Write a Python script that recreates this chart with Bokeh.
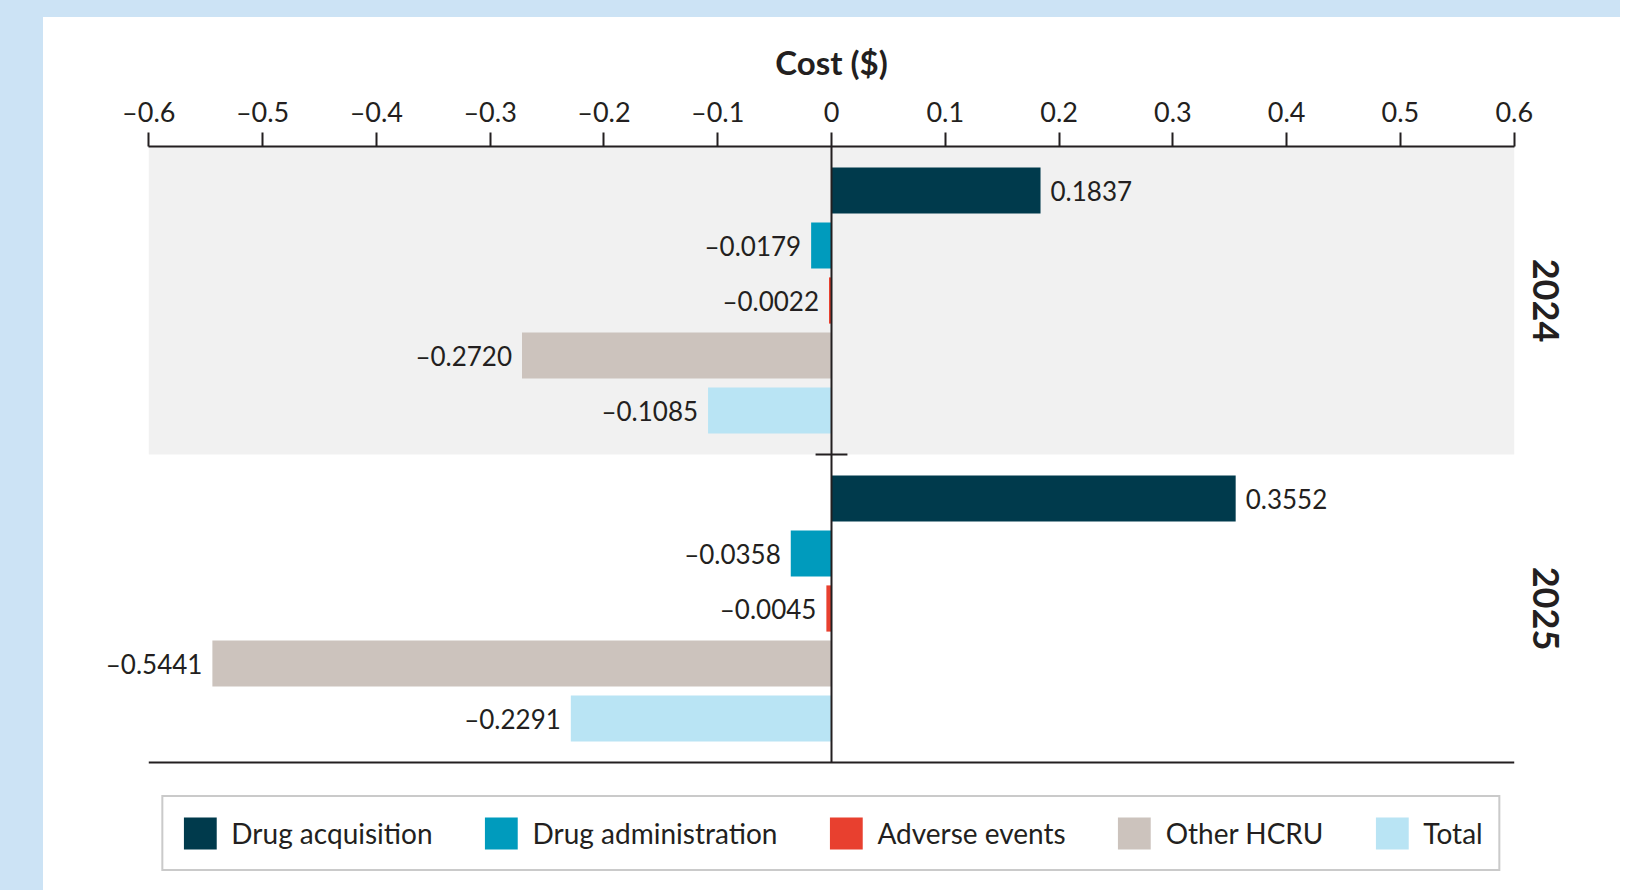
import math
from bokeh.plotting import figure
from bokeh.models import (Range1d, FixedTicker, Legend, LegendItem, ColumnDataSource, Spacer)
from bokeh.layouts import column, row
from bokeh.embed import file_html
from bokeh.resources import INLINE
from bokeh.core.properties import value

# ---------------- data ----------------
years = ["2024", "2025"]
categories = ["Drug acquisition", "Drug administration", "Adverse events", "Other HCRU", "Total"]
costs_2024 = [0.1837, -0.0179, -0.0022, -0.2720, -0.1085]
costs_2025 = [0.3552, -0.0358, -0.0045, -0.5441, -0.2291]
tick_values = [-0.6, -0.5, -0.4, -0.3, -0.2, -0.1, 0.0, 0.1, 0.2, 0.3, 0.4, 0.5, 0.6]
tick_labels = ["–0.6", "–0.5", "–0.4", "–0.3", "–0.2", "–0.1", "0",
               "0.1", "0.2", "0.3", "0.4", "0.5", "0.6"]
colors = ["#003a4c", "#009bbd", "#e8402f", "#ccc3bd", "#b9e4f4"]
axis_title = "Cost ($)"

# ---------------- style ----------------
FONT = "Lato"
INK = "#231f20"
PAGE_BG = "#cce3f5"
BAND = "#f1f1f1"

series = [costs_2024, costs_2025]
n = len(categories)
GROUP_GAP = 0.6
PAD = 0.3

FIG_W, FIG_H = 1577, 873
BORDER_L, BORDER_R, BORDER_T = 37, 38, 129
CHART_H = 616                      # height of the bar area in px
X_MARGIN = 0.06                    # extra data room outside the axis bounds


def ypos(g, i):
    return g * (n + GROUP_GAP) + i


y_top = -0.5 - PAD
y_bot = ypos(len(years) - 1, n - 1) + 0.5 + PAD
boundary = ypos(0, n - 1) + 0.5 + GROUP_GAP / 2
frame_h = FIG_H - BORDER_T
y_end = y_top + (y_bot - y_top) * frame_h / CHART_H
x_lo, x_hi = tick_values[0], tick_values[-1]


def fmt(v):
    return ("–" if v < 0 else "") + f"{abs(v):.4f}"


p = figure(width=FIG_W, height=FIG_H,
           x_range=Range1d(x_lo - X_MARGIN, x_hi + X_MARGIN),
           y_range=Range1d(y_end, y_top),
           x_axis_location="above", y_axis_type=None,
           output_backend="svg", toolbar_location=None,
           min_border_left=BORDER_L, min_border_right=BORDER_R,
           min_border_top=BORDER_T, min_border_bottom=0,
           outline_line_color=None,
           background_fill_color=None, border_fill_color=None,
           styles={"background-color": "white"})
p.grid.visible = False

# shaded band for first year group
p.quad(left=[x_lo], right=[x_hi], top=[y_top], bottom=[boundary],
       fill_color=BAND, line_color=None)

# top axis
xa = p.xaxis[0]
xa.bounds = (x_lo, x_hi)
xa.ticker = FixedTicker(ticks=tick_values)
xa.major_label_overrides = dict(zip(tick_values, tick_labels))
xa.axis_label = axis_title
xa.axis_label_text_font = FONT
xa.axis_label_text_font_style = "bold"
xa.axis_label_text_font_size = "33px"
xa.axis_label_text_color = INK
xa.axis_label_standoff = 10
xa.major_label_text_font = FONT
xa.major_label_text_font_size = "27px"
xa.major_label_text_color = INK
xa.major_label_standoff = 5
xa.axis_line_color = INK
xa.axis_line_width = 2
xa.major_tick_line_color = INK
xa.major_tick_line_width = 2
xa.major_tick_out = 14
xa.major_tick_in = 0
xa.minor_tick_line_color = None

# bars
items = []
for i, (cat, col) in enumerate(zip(categories, colors)):
    src = ColumnDataSource(dict(
        y=[ypos(g, i) for g in range(len(years))],
        v=[s[i] for s in series],
    ))
    r = p.hbar(y="y", left=0, right="v", height=0.84, source=src,
               fill_color=col, line_color=None)
    items.append(LegendItem(label=cat, renderers=[r]))

# value labels
pos = dict(x=[], y=[], t=[])
neg = dict(x=[], y=[], t=[])
for g, s in enumerate(series):
    for i, v in enumerate(s):
        d = pos if v >= 0 else neg
        d["x"].append(v)
        d["y"].append(ypos(g, i))
        d["t"].append(fmt(v))
p.text(x="x", y="y", text="t", source=ColumnDataSource(pos), x_offset=10,
       text_align="left", text_baseline="middle", text_font=value(FONT),
       text_font_size="26px", text_color=INK)
p.text(x="x", y="y", text="t", source=ColumnDataSource(neg), x_offset=-10,
       text_align="right", text_baseline="middle", text_font=value(FONT),
       text_font_size="26px", text_color=INK)

# zero line, bottom line and group separator tick
p.segment(x0=[0], x1=[0], y0=[y_top], y1=[y_bot], line_color=INK, line_width=2)
p.segment(x0=[x_lo], x1=[x_hi], y0=[y_bot], y1=[y_bot], line_color=INK, line_width=2)
p.segment(x0=[-0.014], x1=[0.014], y0=[boundary], y1=[boundary], line_color=INK, line_width=2)

# year labels
p.text(x=[x_hi] * len(years),
       y=[(ypos(g, 0) + ypos(g, n - 1)) / 2 for g in range(len(years))],
       text=years, x_offset=32, angle=-math.pi / 2,
       text_align="center", text_baseline="middle", text_font=value(FONT),
       text_font_style="bold", text_font_size="36px", text_color=INK)

legend = Legend(items=items, orientation="horizontal", location="bottom_center",
                glyph_width=41, glyph_height=40, label_standoff=11, spacing=48,
                padding=16, margin=19,
                label_text_font=FONT, label_text_font_size="28px", label_text_color=INK,
                label_height=40,
                border_line_color="#959595", border_line_width=2.5,
                background_fill_color="white", background_fill_alpha=1)
p.add_layout(legend, "center")

page = column(Spacer(height=17, width=1620),
              row(Spacer(width=43, height=FIG_H), p),
              styles={"background-color": PAGE_BG})

open("out.html", "w").write(file_html(page, INLINE))
